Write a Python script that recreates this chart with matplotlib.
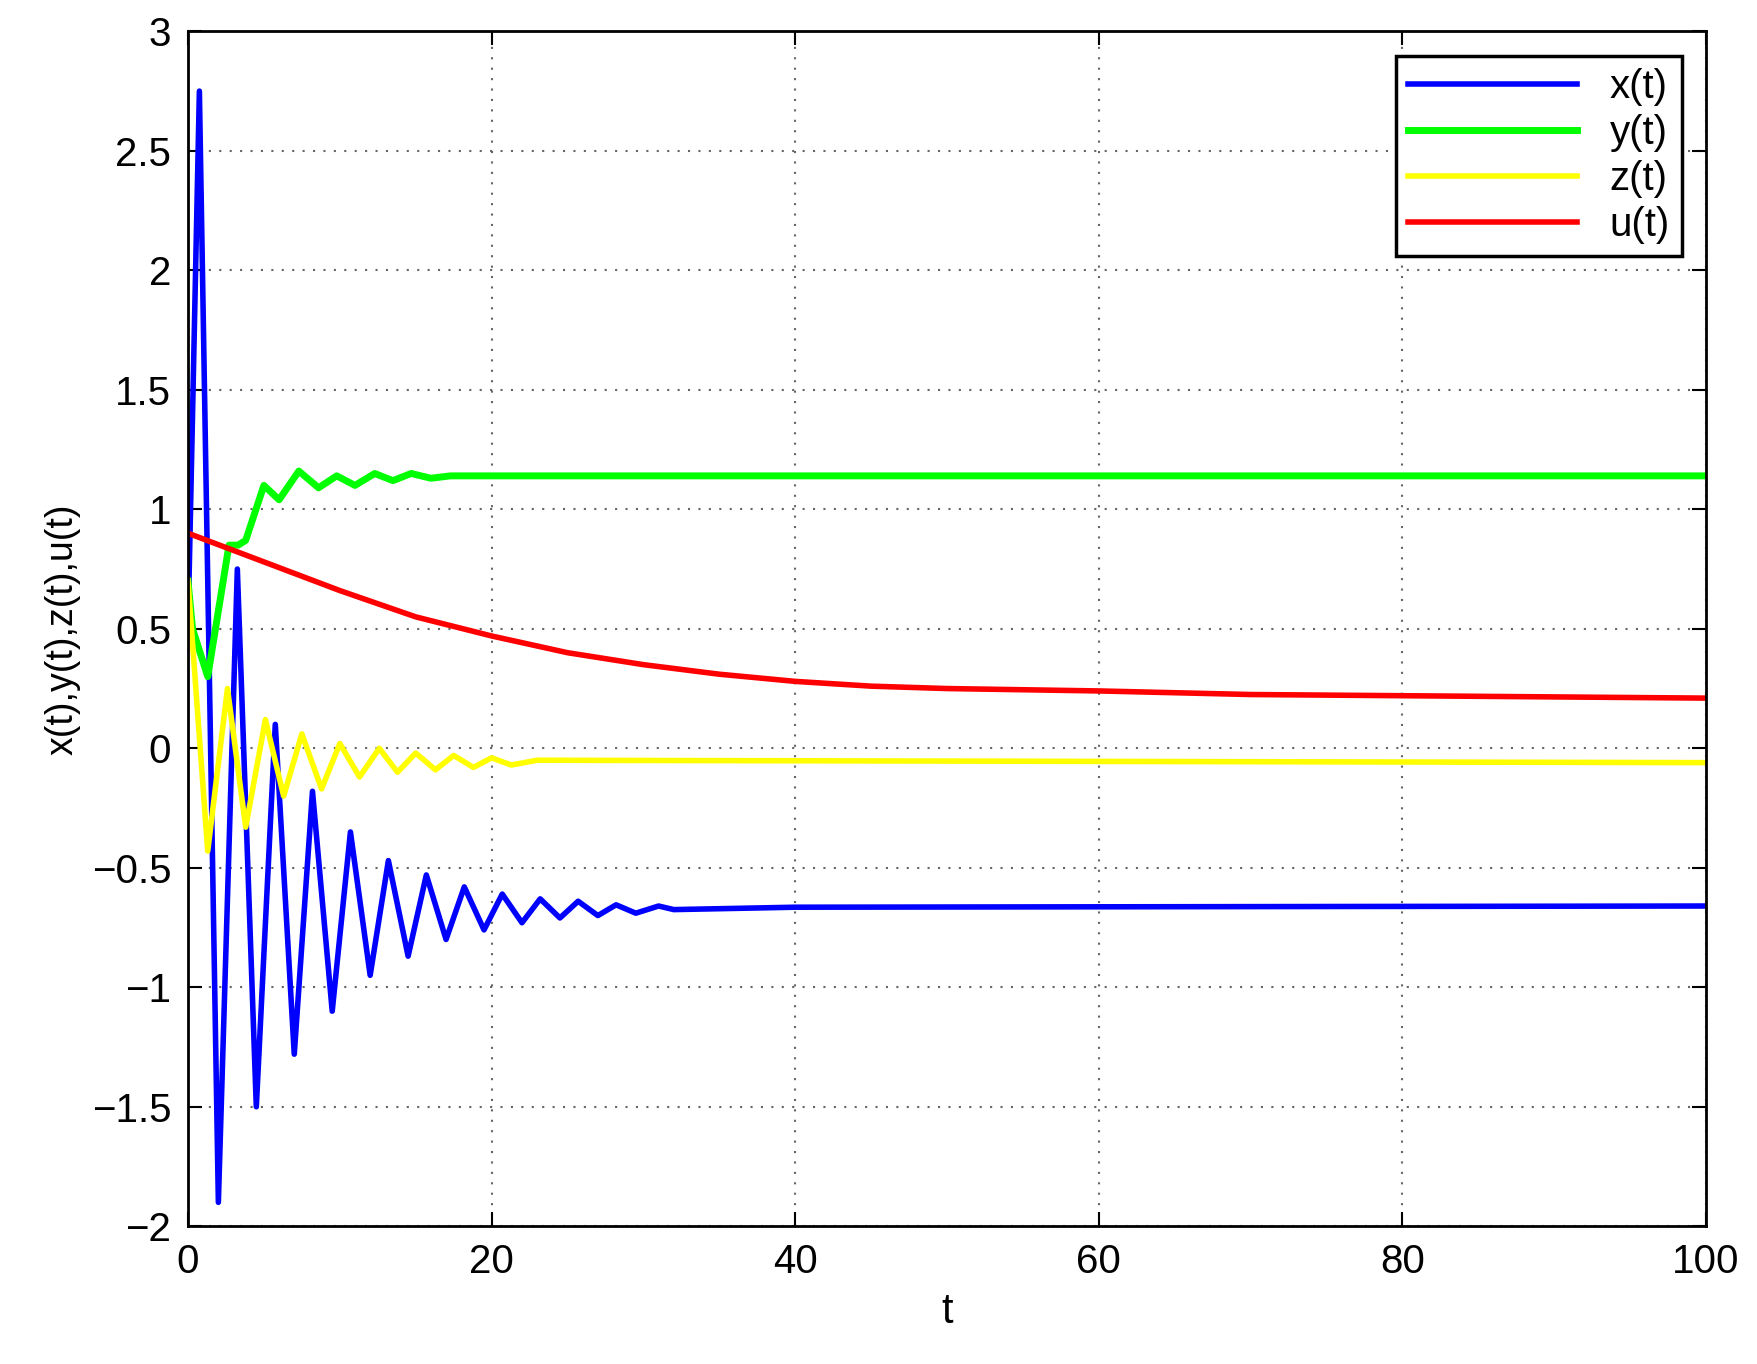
import matplotlib
matplotlib.use("Agg")
import matplotlib.pyplot as plt

plt.rcParams['font.family'] = ['Liberation Sans', 'DejaVu Sans']

x_t = [0, 0.75, 2.0, 3.25, 4.5, 5.75, 7.0, 8.2, 9.5, 10.7, 12.0, 13.2, 14.5, 15.7, 17.0, 18.2, 19.5, 20.7, 22.0, 23.2, 24.5, 25.7, 27.0, 28.2, 29.5, 31.0, 32.0, 40, 100]
x_v = [0.5, 2.75, -1.9, 0.75, -1.5, 0.1, -1.28, -0.18, -1.1, -0.35, -0.95, -0.47, -0.87, -0.53, -0.8, -0.58, -0.76, -0.61, -0.73, -0.63, -0.71, -0.64, -0.70, -0.655, -0.69, -0.66, -0.675, -0.665, -0.66]

y_t = [0, 0.3, 1.3, 2.7, 3.3, 3.8, 5.0, 6.0, 7.3, 8.6, 9.8, 11.0, 12.3, 13.5, 14.7, 16.0, 17.3, 20, 100]
y_v = [0.7, 0.5, 0.3, 0.85, 0.85, 0.87, 1.1, 1.04, 1.16, 1.09, 1.14, 1.1, 1.15, 1.12, 1.15, 1.13, 1.14, 1.14, 1.14]

z_t = [0, 1.3, 2.6, 3.8, 5.1, 6.3, 7.5, 8.8, 10.0, 11.3, 12.6, 13.8, 15.0, 16.3, 17.5, 18.8, 20.0, 21.3, 23, 100]
z_v = [0.7, -0.43, 0.25, -0.33, 0.12, -0.2, 0.06, -0.17, 0.02, -0.12, 0.0, -0.1, -0.02, -0.09, -0.03, -0.08, -0.04, -0.07, -0.05, -0.06]

u_t = [0, 5, 10, 15, 20, 25, 30, 35, 40, 45, 50, 60, 70, 80, 90, 100]
u_v = [0.9, 0.78, 0.66, 0.55, 0.47, 0.40, 0.35, 0.31, 0.28, 0.26, 0.25, 0.24, 0.225, 0.22, 0.215, 0.21]

fig = plt.figure(figsize=(17.57, 13.64), dpi=100)
ax = fig.add_axes([0.107, 0.101, 0.864, 0.876])
ax.plot(x_t, x_v, color='#0000ff', lw=4, label='x(t)')
ax.plot(y_t, y_v, color='#00ff00', lw=5, label='y(t)')
ax.plot(z_t, z_v, color='#ffff00', lw=4, label='z(t)')
ax.plot(u_t, u_v, color='#ff0000', lw=4, label='u(t)')
ax.set_xlim(0, 100)
ax.set_ylim(-2, 3)
ax.set_xticks([0, 20, 40, 60, 80, 100])
ax.set_yticks([-2, -1.5, -1, -0.5, 0, 0.5, 1, 1.5, 2, 2.5, 3])
ax.set_yticklabels(['\u22122', '\u22121.5', '\u22121', '\u22120.5', '0', '0.5', '1', '1.5', '2', '2.5', '3'])
ax.grid(True, linestyle=(0, (1, 4)), color='#666666', lw=1.5)
ax.tick_params(labelsize=29, direction='in', length=10, width=1.5, top=True, right=True, pad=12)
for s in ax.spines.values():
    s.set_linewidth(2)
ax.set_xlabel('t', fontsize=30, labelpad=8)
ax.set_ylabel('x(t),y(t),z(t),u(t)', fontsize=27, labelpad=8)
leg = ax.legend(loc='upper right', fontsize=29, fancybox=False, framealpha=1,
                edgecolor='black', handlelength=4.2, borderaxespad=0.6, labelspacing=0.2,
                handletextpad=0.8, borderpad=0.3)
leg.get_frame().set_linewidth(2.5)
fig.savefig('out.png', dpi=100)
